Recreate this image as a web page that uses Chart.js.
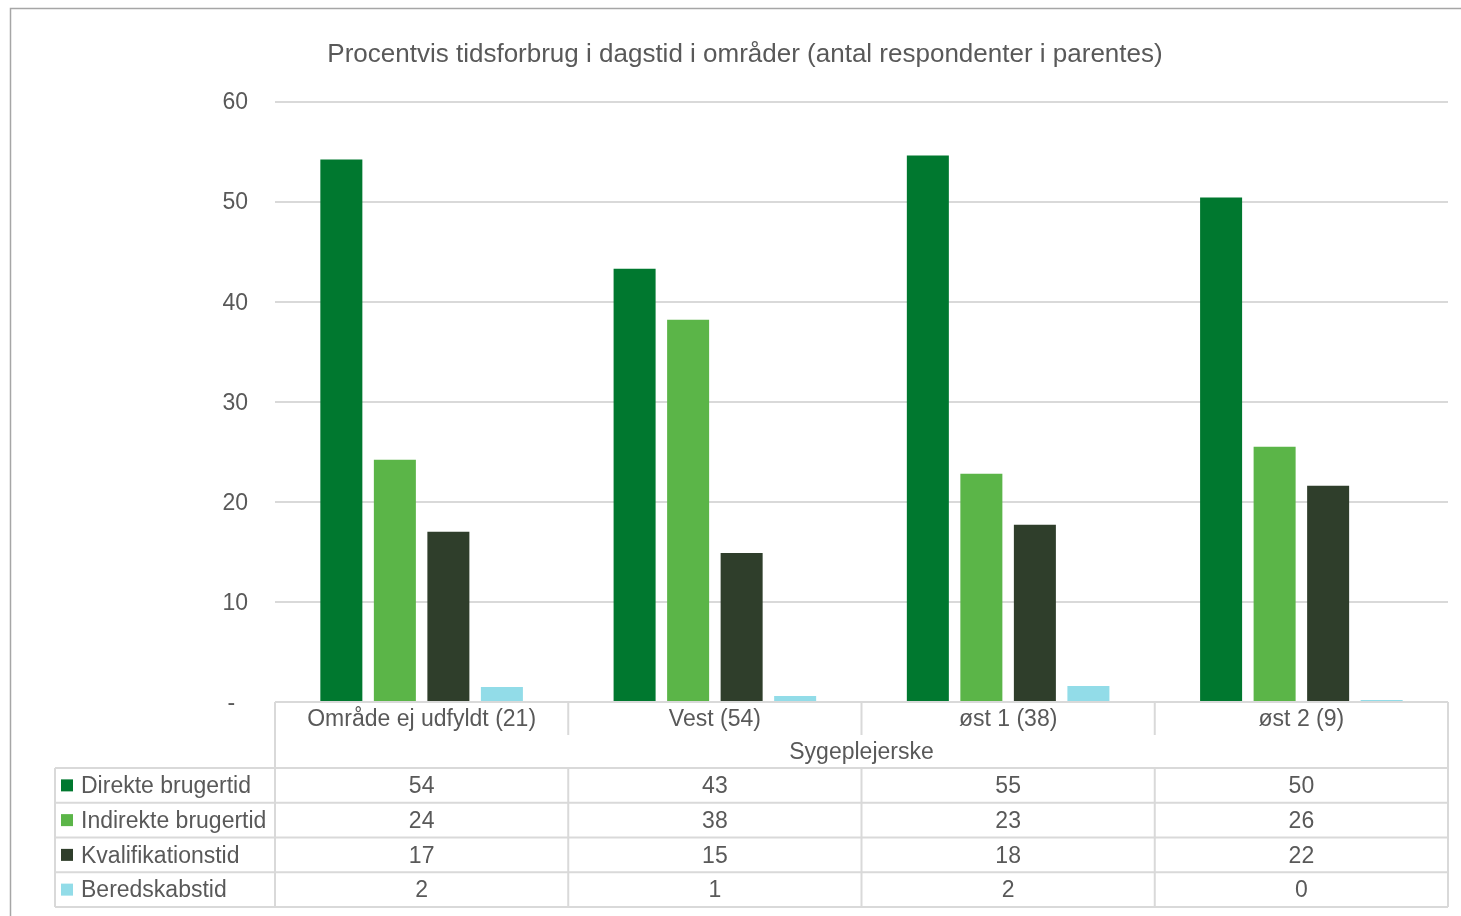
<!DOCTYPE html>
<html>
<head>
<meta charset="utf-8">
<title>Procentvis tidsforbrug i dagstid</title>
<script src="https://cdn.jsdelivr.net/npm/chart.js@4.4.1/dist/chart.umd.min.js"></script>
<style>
  html, body { margin: 0; padding: 0; background: #fff; }
  #wrap { position: relative; width: 1461px; height: 916px; }
</style>
</head>
<body>
<div id="wrap"><canvas id="myChart"></canvas></div>
<script>
// data
const chartTitle = 'Procentvis tidsforbrug i dagstid i områder (antal respondenter i parentes)';
const categories = ['Område ej udfyldt (21)', 'Vest (54)', 'øst 1 (38)', 'øst 2 (9)'];
const groupLabel = 'Sygeplejerske';
const seriesNames = ['Direkte brugertid', 'Indirekte brugertid', 'Kvalifikationstid', 'Beredskabstid'];
const direkte = [54.2, 43.3, 54.6, 50.4];
const indirekte = [24.2, 38.2, 22.8, 25.5];
const kvalifikation = [17.0, 14.9, 17.7, 21.6];
const beredskab = [1.5, 0.6, 1.6, 0.2];
const yMin = 0;
const yMax = 60;
const yStep = 10;

const seriesColors = ['#00782f', '#5bb548', '#2f3e2b', '#92dce8'];
const seriesValues = [direkte, indirekte, kvalifikation, beredskab];

const textColor = '#595959';
const lineColor = '#d9d9d9';
const fontFamily = '"Liberation Sans", Arial, sans-serif';

Chart.defaults.font.family = fontFamily;
Chart.defaults.color = textColor;

// title, frame and data table under the plot
const tablePlugin = {
  id: 'dataTable',
  afterDraw(chart) {
    const ctx = chart.ctx;
    const area = chart.chartArea;
    const x = chart.scales.x;
    const colW = (area.right - area.left) / categories.length;
    const leftEdge = 55;
    const catRowH = 33;
    const groupRowH = 33;
    const rowH = 34.75;
    const top = area.bottom;
    const dataTop = top + catRowH + groupRowH;
    const bottom = dataTop + rowH * seriesNames.length;
    const textDy = 1.5; // nudge text down a little inside its cell

    ctx.save();

    // outer frame
    ctx.strokeStyle = '#a6a6a6';
    ctx.lineWidth = 1.5;
    ctx.beginPath();
    ctx.moveTo(10.5, chart.height);
    ctx.lineTo(10.5, 8.5);
    ctx.lineTo(chart.width, 8.5);
    ctx.stroke();

    // title
    ctx.fillStyle = textColor;
    ctx.font = '26px ' + fontFamily;
    ctx.textAlign = 'center';
    ctx.textBaseline = 'middle';
    ctx.fillText(chartTitle, 745, 55);

    // table grid
    ctx.strokeStyle = lineColor;
    ctx.lineWidth = 2;
    ctx.beginPath();
    ctx.moveTo(area.left, top);
    ctx.lineTo(area.left, bottom);
    ctx.moveTo(area.right, top);
    ctx.lineTo(area.right, bottom);
    ctx.moveTo(leftEdge, dataTop);
    ctx.lineTo(leftEdge, bottom);
    for (let i = 1; i < categories.length; i++) {
      const cx = area.left + colW * i;
      ctx.moveTo(cx, top);
      ctx.lineTo(cx, top + catRowH);
      ctx.moveTo(cx, dataTop);
      ctx.lineTo(cx, bottom);
    }
    for (let r = 0; r <= seriesNames.length; r++) {
      const ry = dataTop + rowH * r;
      ctx.moveTo(leftEdge, ry);
      ctx.lineTo(area.right, ry);
    }
    ctx.stroke();

    // category and group labels
    ctx.fillStyle = textColor;
    ctx.font = '23px ' + fontFamily;
    ctx.textAlign = 'center';
    categories.forEach((c, i) => {
      ctx.fillText(c, x.getPixelForValue(i), top + catRowH / 2 + textDy);
    });
    ctx.fillText(groupLabel, (area.left + area.right) / 2, top + catRowH + groupRowH / 2 + textDy);

    // rows: legend key, series name, rounded values
    seriesNames.forEach((name, r) => {
      const cy = dataTop + rowH * r + rowH / 2;
      ctx.fillStyle = seriesColors[r];
      ctx.fillRect(61, cy - 6, 12, 12);
      ctx.fillStyle = textColor;
      ctx.textAlign = 'left';
      ctx.fillText(name, 81, cy + textDy);
      ctx.textAlign = 'center';
      seriesValues[r].forEach((v, i) => {
        ctx.fillText(String(Math.round(v)), x.getPixelForValue(i), cy + textDy);
      });
    });

    ctx.restore();
  }
};

const ctx = document.getElementById('myChart').getContext('2d');
const myChart = new Chart(ctx, {
  type: 'bar',
  data: {
    labels: categories,
    datasets: seriesNames.map((name, i) => ({
      label: name,
      data: seriesValues[i],
      backgroundColor: seriesColors[i],
      borderWidth: 0,
      categoryPercentage: 0.73,
      barPercentage: 0.785
    }))
  },
  options: {
    responsive: true,
    maintainAspectRatio: false,
    animation: false,
    devicePixelRatio: 1,
    layout: {
      padding: { top: 101.5, right: 13, bottom: 214, left: 0 }
    },
    plugins: {
      legend: { display: false },
      title: { display: false },
      tooltip: { enabled: false }
    },
    scales: {
      x: {
        display: false
      },
      y: {
        min: yMin,
        max: yMax,
        afterFit(scale) { scale.width = 275; },
        border: { display: false },
        grid: {
          color: lineColor,
          lineWidth: 2,
          drawTicks: false
        },
        ticks: {
          stepSize: yStep,
          padding: 27,
          labelOffset: 1.5,
          color: textColor,
          font: { size: 23 },
          callback: (v) => v === 0 ? '-  ' : v
        }
      }
    }
  },
  plugins: [tablePlugin]
});
</script>
</body>
</html>
